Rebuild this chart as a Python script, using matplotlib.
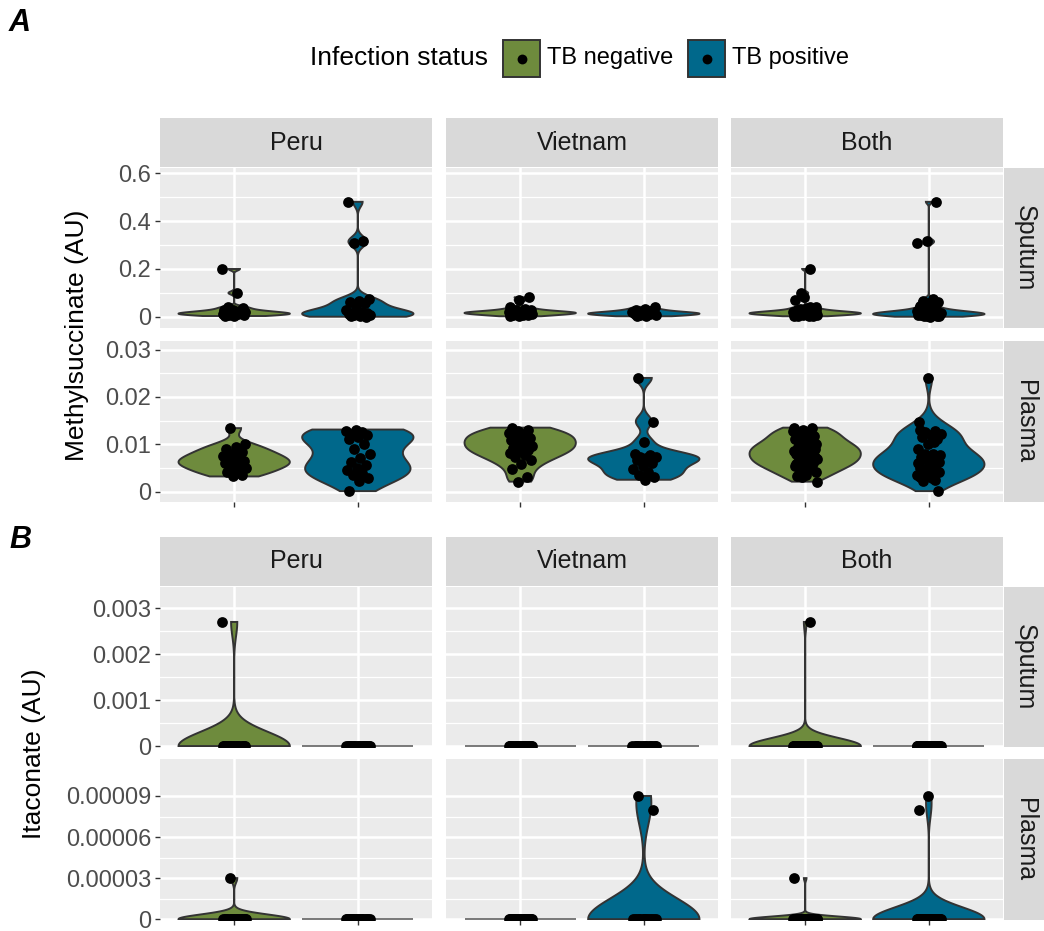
import numpy as np
import matplotlib.pyplot as plt
from matplotlib.patches import Polygon, Rectangle

plt.rcParams['font.family'] = ['Liberation Sans', 'DejaVu Sans']

# ---- Methylsuccinate (AU) -------------------------------------------------
ms_sputum_peru_neg = [0.200, 0.100, 0.042, 0.038, 0.031, 0.027, 0.024, 0.021, 0.019, 0.017,
                      0.016, 0.015, 0.013, 0.012, 0.011, 0.010, 0.008, 0.006, 0.004]
ms_sputum_peru_pos = [0.480, 0.318, 0.310, 0.075, 0.068, 0.064, 0.058, 0.045, 0.030, 0.022,
                      0.018, 0.015, 0.013, 0.011, 0.010, 0.008, 0.007, 0.005, 0.003, 0.001]
ms_sputum_viet_neg = [0.082, 0.070, 0.040, 0.035, 0.031, 0.028, 0.026, 0.024, 0.022, 0.021,
                      0.020, 0.019, 0.018, 0.017, 0.016, 0.015, 0.014, 0.013, 0.012, 0.010,
                      0.009, 0.007, 0.005, 0.003]
ms_sputum_viet_pos = [0.042, 0.034, 0.029, 0.025, 0.022, 0.020, 0.018, 0.016, 0.015, 0.014,
                      0.012, 0.011, 0.009, 0.007, 0.005, 0.003]

ms_plasma_peru_neg = [0.0134, 0.0100, 0.0095, 0.0089, 0.0083, 0.0079, 0.0076, 0.0072, 0.0068,
                      0.0065, 0.0062, 0.0060, 0.0057, 0.0054, 0.0050, 0.0046, 0.0041, 0.0036,
                      0.0032]
ms_plasma_peru_pos = [0.0131, 0.0128, 0.0125, 0.0122, 0.0119, 0.0115, 0.0110, 0.0100, 0.0090,
                      0.0080, 0.0071, 0.0063, 0.0056, 0.0050, 0.0045, 0.0040, 0.0034, 0.0029,
                      0.0022, 0.0001]
ms_plasma_viet_neg = [0.0135, 0.0131, 0.0127, 0.0124, 0.0121, 0.0118, 0.0114, 0.0111, 0.0108,
                      0.0104, 0.0100, 0.0097, 0.0094, 0.0091, 0.0088, 0.0085, 0.0081, 0.0077,
                      0.0072, 0.0066, 0.0059, 0.0048, 0.0030, 0.0021]
ms_plasma_viet_pos = [0.0240, 0.0148, 0.0105, 0.0080, 0.0077, 0.0074, 0.0072, 0.0070, 0.0067,
                      0.0061, 0.0054, 0.0047, 0.0041, 0.0035, 0.0030, 0.0025]

# ---- Itaconate (AU): mostly below detection (0) ---------------------------
ita_sputum_peru_neg = [0.0027] + [0.0] * 18
ita_sputum_peru_pos = [0.0] * 20
ita_sputum_viet_neg = [0.0] * 24
ita_sputum_viet_pos = [0.0] * 16

ita_plasma_peru_neg = [0.00003] + [0.0] * 18
ita_plasma_peru_pos = [0.0] * 20
ita_plasma_viet_neg = [0.0] * 24
ita_plasma_viet_pos = [0.00009, 0.00008] + [0.0] * 14

regions = ["Peru", "Vietnam", "Both"]
sample_types = ["Sputum", "Plasma"]
status_names = ["TB negative", "TB positive"]
status_colors = ["#6E8B3D", "#00688B"]

ms_sputum_ticks = [0, 0.2, 0.4, 0.6]
ms_sputum_ticklabels = ["0", "0.2", "0.4", "0.6"]
ms_plasma_ticks = [0, 0.01, 0.02, 0.03]
ms_plasma_ticklabels = ["0", "0.01", "0.02", "0.03"]
ita_sputum_ticks = [0, 0.001, 0.002, 0.003]
ita_sputum_ticklabels = ["0", "0.001", "0.002", "0.003"]
ita_plasma_ticks = [0, 0.00003, 0.00006, 0.00009]
ita_plasma_ticklabels = ["0", "0.00003", "0.00006", "0.00009"]

OUTLINE = "#333333"
PANEL_BG = "#EBEBEB"
STRIP_BG = "#D9D9D9"

W, H = 1044, 931
fig = plt.figure(figsize=(W / 100, H / 100), dpi=100)


def fig_box(x0, y0, x1, y1):
    # pixel box (top-left origin) -> figure fraction rect
    return [x0 / W, 1 - y1 / H, (x1 - x0) / W, (y1 - y0) / H]


def bw_nrd0(x):
    x = np.asarray(x, float)
    hi = np.std(x, ddof=1)
    q75, q25 = np.percentile(x, [75, 25])
    lo = min(hi, (q75 - q25) / 1.34)
    if lo == 0:
        lo = hi or abs(x[0]) or 1.0
    return 0.9 * lo * len(x) ** -0.2


def draw_violin(ax, pos, values, color, width=0.9):
    v = np.asarray(values, float)
    half_w = width / 2
    if np.ptp(v) == 0:
        ax.plot([pos - half_w, pos + half_w], [v[0], v[0]], color="#555555", lw=1.1, zorder=2,
                solid_capstyle="butt")
        return
    bw = bw_nrd0(v)
    ys = np.linspace(v.min(), v.max(), 512)
    dens = np.exp(-0.5 * ((ys[:, None] - v[None, :]) / bw) ** 2).sum(axis=1)
    half = half_w * dens / dens.max()
    xs = np.concatenate([pos - half, (pos + half)[::-1]])
    yy = np.concatenate([ys, ys[::-1]])
    ax.add_patch(Polygon(np.column_stack([xs, yy]), closed=True, facecolor=color,
                         edgecolor=OUTLINE, lw=1.4, zorder=2))


def jitter(n, phase, amount=0.1):
    # deterministic low-discrepancy spread instead of random jitter
    k = (np.arange(n) + phase) * 0.6180339887
    return ((k % 1.0) * 2 - 1) * amount


def strip_axes(rect, label, rotation=0):
    sax = fig.add_axes(rect)
    sax.set_facecolor(STRIP_BG)
    sax.set_xticks([])
    sax.set_yticks([])
    for s in sax.spines.values():
        s.set_visible(False)
    sax.text(0.5, 0.5, label, transform=sax.transAxes, ha="center", va="center",
             fontsize=18, color="#1A1A1A", rotation=rotation)
    return sax


COLS = [(160, 432), (446, 718), (731, 1003)]


def draw_block(groups, strip_y, rows_y, ylims, ticks, ticklabels, title, title_x):
    for c, region in enumerate(regions):
        x0, x1 = COLS[c]
        strip_axes(fig_box(x0, strip_y[0], x1, strip_y[1]), region)
    for r, sample in enumerate(sample_types):
        y0, y1 = rows_y[r]
        strip_axes(fig_box(1004, y0, 1046, y1), sample, rotation=-90)
        for c, region in enumerate(regions):
            x0, x1 = COLS[c]
            ax = fig.add_axes(fig_box(x0, y0, x1, y1))
            ax.set_facecolor(PANEL_BG)
            ax.set_axisbelow(True)
            for s in ax.spines.values():
                s.set_visible(False)
            ax.set_xlim(0.4, 2.6)
            ax.set_ylim(*ylims[r])
            ax.set_xticks([1, 2])
            ax.set_xticklabels([])
            tk = ticks[r]
            ax.set_yticks(tk)
            ax.set_yticks([(a + b) / 2 for a, b in zip(tk[:-1], tk[1:])], minor=True)
            ax.grid(which="major", color="white", lw=1.8)
            ax.grid(which="minor", axis="y", color="white", lw=0.9)
            ax.tick_params(which="minor", left=False)
            ax.tick_params(which="major", length=3.8, width=1.0, color=OUTLINE,
                           labelsize=17, labelcolor="#4D4D4D", pad=2.5)
            if c == 0:
                ax.set_yticklabels(ticklabels[r])
            else:
                ax.tick_params(left=False, labelleft=False)
            if r == 0:
                ax.tick_params(bottom=False)

            neg, pos = groups[(sample, region)]
            for i, vals in enumerate((neg, pos)):
                draw_violin(ax, i + 1, vals, status_colors[i])
                v = np.asarray(vals, float)
                ax.scatter(i + 1 + jitter(len(v), 3 * c + 7 * r + 5 * i), v, s=60,
                           color="black", linewidths=0, zorder=3)
    fig.text(title_x / W, 1 - (rows_y[0][0] + rows_y[1][1]) / 2 / H, title, rotation=90,
             ha="center", va="center", fontsize=19, color="black")


def with_both(d):
    out = dict(d)
    for sample in sample_types:
        pn, pp = d[(sample, "Peru")]
        vn, vp = d[(sample, "Vietnam")]
        out[(sample, "Both")] = (pn + vn, pp + vp)
    return out


methylsuccinate = with_both({
    ("Sputum", "Peru"): (ms_sputum_peru_neg, ms_sputum_peru_pos),
    ("Sputum", "Vietnam"): (ms_sputum_viet_neg, ms_sputum_viet_pos),
    ("Plasma", "Peru"): (ms_plasma_peru_neg, ms_plasma_peru_pos),
    ("Plasma", "Vietnam"): (ms_plasma_viet_neg, ms_plasma_viet_pos),
})
itaconate = with_both({
    ("Sputum", "Peru"): (ita_sputum_peru_neg, ita_sputum_peru_pos),
    ("Sputum", "Vietnam"): (ita_sputum_viet_neg, ita_sputum_viet_pos),
    ("Plasma", "Peru"): (ita_plasma_peru_neg, ita_plasma_peru_pos),
    ("Plasma", "Vietnam"): (ita_plasma_viet_neg, ita_plasma_viet_pos),
})

# panel A
draw_block(methylsuccinate, (118, 167), [(168, 328), (341, 502)],
           [(-0.046, 0.621), (-0.0022, 0.0318)],
           [ms_sputum_ticks, ms_plasma_ticks],
           [ms_sputum_ticklabels, ms_plasma_ticklabels],
           "Methylsuccinate (AU)", 77)

# panel B
draw_block(itaconate, (537, 586), [(587, 747), (759, 920)],
           [(-0.00002, 0.00346), (-0.0000006, 0.000117)],
           [ita_sputum_ticks, ita_plasma_ticks],
           [ita_sputum_ticklabels, ita_plasma_ticklabels],
           "Itaconate (AU)", 34)

# legend and panel tags on a pixel-space overlay
ov = fig.add_axes([0, 0, 1, 1], zorder=10)
ov.set_xlim(0, W)
ov.set_ylim(H, 0)
ov.axis("off")
ov.text(310, 58, "Infection status", fontsize=19, ha="left", va="center")
for name, color, kx in zip(status_names, status_colors, [503, 688]):
    ov.add_patch(Rectangle((kx, 40), 37, 37, facecolor=color, edgecolor=OUTLINE, lw=1.4))
    ov.scatter([kx + 18.5], [58.5], s=50, color="black", linewidths=0)
    ov.text(kx + 44, 58, name, fontsize=17, ha="left", va="center")
ov.text(9, 23, "A", fontsize=22, fontweight="bold", fontstyle="italic", ha="left", va="center")
ov.text(9, 540, "B", fontsize=22, fontweight="bold", fontstyle="italic", ha="left", va="center")

fig.savefig("out.png", dpi=100)
